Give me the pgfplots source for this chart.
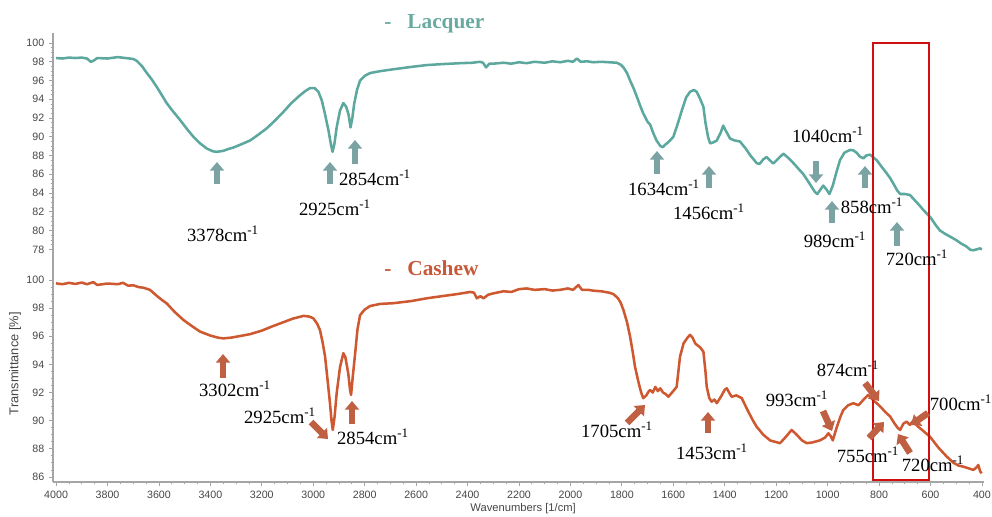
\documentclass[border=0pt]{standalone}
\usepackage{pgfplots}
\pgfplotsset{compat=1.18}
\usepackage{fontspec}
\setmainfont{Liberation Serif}
\newfontfamily\tickfont{Liberation Sans}
\usetikzlibrary{arrows.meta}
\definecolor{teal1}{RGB}{92,168,158}
\definecolor{cash}{RGB}{206,88,48}
\definecolor{tarrow}{RGB}{124,163,164}
\definecolor{carrow}{RGB}{192,96,66}
\definecolor{ttitle}{RGB}{104,170,160}
\definecolor{ctitle}{RGB}{200,88,56}
\definecolor{axgray}{RGB}{165,165,165}
\definecolor{lblgray}{RGB}{70,70,70}
\definecolor{boxred}{RGB}{208,16,16}
\pgfplotsset{
  myaxis/.style={scale only axis, width=698.25pt, xmin=392, xmax=4012, x dir=reverse,
    axis y line*=left, tick align=outside,
    axis line style={axgray, line width=0.8pt},
    major tick length=3pt, minor tick length=1.8pt,
    tick style={axgray, line width=0.6pt},
    minor tick num=3,
    tick label style={font=\tickfont\fontsize{8}{9}\selectfont, text=lblgray},
    /pgf/number format/assume math mode=true,
    /pgf/number format/1000 sep={},
  }
}
\newcommand{\cm}{cm\textsuperscript{-1}}
\begin{document}
\begin{tikzpicture}
\useasboundingbox (0,0) rectangle (744pt,-387.75pt);
% ---------------- Lacquer (top) ----------------
\begin{axis}[myaxis, at={(39.75pt,-197.55pt)}, anchor=south west,
  height=172.8pt, ymin=76.5, ymax=101.07, axis x line=none,
  ytick={78,80,...,100}]
\addplot[teal1, line width=1.9pt, line join=round] coordinates {
(4000,98.4)(3975,98.35)(3950,98.45)(3925,98.4)(3900,98.45)(3880,98.35)(3865,98.0)(3855,98.1)(3840,98.4)
(3800,98.35)(3760,98.5)(3730,98.4)(3700,98.3)(3686,98.1)(3665,97.5)(3647,96.8)(3630,96.2)(3608,95.3)
(3590,94.5)(3570,93.6)(3545,92.7)(3518,91.8)(3490,90.8)(3466,90.0)(3440,89.3)(3414,88.75)(3390,88.45)
(3375,88.4)(3350,88.5)(3330,88.7)(3311,88.85)(3280,89.2)(3246,89.6)(3215,90.2)(3181,90.9)(3150,91.7)
(3116,92.66)(3085,93.6)(3051,94.44)(3030,94.9)(3012,95.2)(2995,95.2)(2980,94.8)(2967,93.9)(2955,92.5)
(2941,90.7)(2932,89.3)(2925,88.4)(2918,89.2)(2909,91.0)(2896,92.8)(2883,93.6)(2872,93.2)(2863,92.4)
(2855,91.0)(2848,92.0)(2841,93.5)(2830,95.0)(2818,96.0)(2800,96.5)(2779,96.8)(2740,97.0)(2689,97.2)
(2620,97.45)(2559,97.65)(2500,97.75)(2429,97.85)(2380,97.9)(2352,98.0)(2340,97.9)(2328,97.4)(2315,97.8)
(2300,97.8)(2260,97.9)(2230,97.8)(2200,97.95)(2170,97.85)(2140,98.0)(2100,97.9)(2070,98.05)(2040,97.95)
(2010,98.1)(1990,98.0)(1975,98.35)(1960,98.0)(1935,98.05)(1911,97.95)(1880,98.0)(1850,97.95)(1820,97.9)
(1805,97.7)(1794,97.4)(1780,96.8)(1768,96.0)(1755,95.2)(1742,94.3)(1730,93.4)(1717,92.5)(1700,91.6)
(1690,91.3)(1678,90.4)(1665,89.6)(1650,89.0)(1640,88.9)(1634,89.1)(1625,89.3)(1613,89.6)(1600,90.0)
(1585,91.2)(1567,92.8)(1550,94.2)(1535,94.8)(1520,95.0)(1509,94.8)(1495,94.0)(1483,93.2)(1475,91.5)
(1465,90.0)(1457,89.3)(1445,89.4)(1431,89.6)(1415,90.5)(1406,91.2)(1395,90.6)(1379,89.8)(1360,89.6)
(1341,89.5)(1320,88.8)(1300,88.0)(1276,87.2)(1265,87.1)(1250,87.6)(1237,87.85)(1225,87.5)(1211,87.15)
(1195,87.6)(1172,88.2)(1155,87.8)(1140,87.4)(1120,86.8)(1094,86.0)(1070,85.0)(1049,84.1)(1040,83.9)
(1030,84.3)(1017,84.8)(1005,84.4)(993,83.9)(980,84.8)(965,86.3)(952,87.5)(935,88.3)(913,88.6)(900,88.55)
(887,88.3)(875,87.9)(861,87.7)(850,88.0)(835,88.1)(822,87.8)(809,87.5)(790,86.8)(770,86.1)(757,85.6)
(744,85.0)(730,84.3)(718,83.9)(700,83.9)(680,83.8)(660,83.2)(640,82.6)(628,82.2)(600,81.4)(580,80.6)
(563,80.0)(540,79.6)(520,79.3)(498,78.95)(480,78.6)(460,78.3)(445,77.95)(433,77.9)(420,78.0)(408,78.1)(400,78.0)
};
\end{axis}
% ---------------- Cashew (bottom) ----------------
\begin{axis}[myaxis, at={(39.75pt,-361.5pt)}, anchor=south west,
  height=163.95pt, ymin=85.64, ymax=101.18, axis x line*=bottom,
  xtick={400,600,...,4000}, ytick={86,88,...,100},
  xlabel={Wavenumbers [1/cm]}, ylabel={Transmittance [\%]},
  every axis x label/.style={at={(axis description cs:0.505,0)}, anchor=center, yshift=-20pt,
     font=\tickfont\fontsize{8.4}{9}\selectfont, text=lblgray},
  every axis y label/.style={at={(axis description cs:-0.0408,0.541)}, rotate=90, anchor=center,
     font=\tickfont\fontsize{9.6}{10}\selectfont, text=lblgray}]
\addplot[cash, line width=1.9pt, line join=round] coordinates {
(4000,99.76)(3975,99.7)(3950,99.8)(3925,99.72)(3900,99.82)(3880,99.7)(3855,99.85)(3840,99.65)(3800,99.75)
(3760,99.7)(3740,99.8)(3720,99.6)(3699,99.62)(3680,99.5)(3660,99.45)(3635,99.3)(3610,98.9)(3590,98.6)
(3570,98.34)(3540,97.75)(3505,97.16)(3470,96.7)(3440,96.33)(3400,96.05)(3370,95.9)(3350,95.85)(3320,95.9)
(3290,96.0)(3246,96.15)(3200,96.4)(3160,96.7)(3116,97.0)(3080,97.25)(3038,97.45)(3015,97.4)(3000,97.28)
(2985,96.9)(2974,96.45)(2964,95.6)(2954,94.55)(2945,93.0)(2935,91.24)(2929,90.0)(2924,89.34)(2917,90.3)
(2909,91.95)(2896,93.8)(2883,94.8)(2875,94.5)(2864,93.37)(2857,92.2)(2853,91.83)(2846,93.2)(2837,94.8)
(2828,96.5)(2818,97.5)(2800,97.9)(2779,98.15)(2740,98.3)(2689,98.35)(2620,98.5)(2559,98.7)(2500,98.85)
(2440,99.0)(2390,99.15)(2375,99.1)(2364,98.7)(2350,98.85)(2338,98.7)(2320,98.95)(2300,99.05)(2260,99.2)
(2230,99.15)(2200,99.35)(2170,99.4)(2140,99.3)(2100,99.35)(2070,99.25)(2040,99.3)(2010,99.4)(1990,99.3)
(1969,99.64)(1955,99.3)(1930,99.3)(1911,99.24)(1880,99.2)(1850,99.1)(1833,99.0)(1815,98.7)(1805,98.4)
(1794,97.87)(1780,97.0)(1768,95.97)(1758,94.9)(1749,93.84)(1735,92.7)(1725,92.0)(1717,91.6)(1705,91.8)
(1695,92.1)(1690,92.18)(1680,92.0)(1670,92.4)(1660,92.1)(1651,92.3)(1640,92.0)(1630,91.9)(1619,91.7)
(1605,92.0)(1587,92.4)(1574,94.55)(1560,95.5)(1545,95.9)(1535,96.1)(1525,95.9)(1515,95.5)(1509,95.4)
(1495,95.2)(1483,94.9)(1475,93.5)(1470,92.4)(1460,91.6)(1451,91.35)(1440,91.5)(1431,91.24)(1415,91.7)
(1400,92.2)(1392,92.3)(1380,91.9)(1373,91.7)(1355,91.8)(1334,91.6)(1310,90.7)(1290,90.0)(1276,89.57)
(1250,89.0)(1224,88.6)(1205,88.5)(1185,88.4)(1165,88.8)(1140,89.34)(1120,89.0)(1100,88.6)(1081,88.4)
(1060,88.45)(1030,88.6)(1010,88.8)(997,89.1)(988,88.9)(980,88.6)(965,89.5)(950,90.3)(939,90.76)(920,91.1)
(900,91.24)(880,91.1)(860,91.5)(842,91.83)(830,91.6)(820,91.4)(809,91.24)(790,90.9)(775,90.6)(757,90.3)
(740,89.8)(728,89.5)(718,89.34)(705,89.8)(693,89.93)(680,89.7)(667,90.0)(650,89.6)(630,89.3)(602,88.86)
(570,88.1)(537,87.45)(510,87.0)(490,86.8)(472,86.73)(450,86.6)(433,86.5)(420,86.7)(414,86.85)(407,86.4)(401,86.26)
};
\end{axis}
% ---------------- annotations (pixel coordinates) ----------------
\begin{scope}[x=0.75pt, y=-0.75pt]
\tikzset{ta/.style={draw=tarrow, line width=5pt, -{Triangle[width=10.5pt,length=6.5pt]}},
         ca/.style={draw=carrow, line width=5pt, -{Triangle[width=10.5pt,length=6.5pt]}},
         lab/.style={font=\fontsize{14}{16}\selectfont, inner sep=0pt, text=black}}
% titles
\node[anchor=west, inner sep=0pt, text=ttitle, font=\fontsize{16}{18}\selectfont\bfseries] at (384,24) {-\hspace{12pt}Lacquer};
\node[anchor=west, inner sep=0pt, text=ctitle, font=\fontsize{16}{18}\selectfont\bfseries] at (384,268) {-\hspace{12pt}Cashew};
% red box
\draw[boxred, line width=1.9pt] (873,43) rectangle (929,480);
% top arrows
\draw[ta] (217,184) -- (217,162);
\draw[ta] (330,184) -- (330,162);
\draw[ta] (355,164) -- (355,140);
\draw[ta] (657,174) -- (657,151);
\draw[ta] (709,188) -- (709,166);
\draw[ta] (816,161) -- (816,183);
\draw[ta] (832,223) -- (832,201);
\draw[ta] (865,188) -- (865,166);
\draw[ta] (897,246) -- (897,222);
% top labels
\node[lab] at (223,234) {3378\cm};
\node[lab] at (335,208) {2925\cm};
\node[lab] at (375,178) {2854\cm};
\node[lab] at (664,188) {1634\cm};
\node[lab] at (709,212) {1456\cm};
\node[lab] at (828,135) {1040\cm};
\node[lab] at (835,240) {989\cm};
\node[lab] at (872,206) {858\cm};
\node[lab] at (917,258) {720\cm};
% bottom arrows
\draw[ca] (223,378) -- (223,354);
\draw[ca] (311,422) -- (328,439);
\draw[ca] (352,424) -- (352,401);
\draw[ca] (627,423) -- (645,405);
\draw[ca] (708,433) -- (708,412);
\draw[ca] (823,411) -- (832,431);
\draw[ca] (865,383) -- (879,401);
\draw[ca] (928,413) -- (911,425);
\draw[ca] (869,438) -- (884,422);
\draw[ca] (910,453) -- (898,434);
% bottom labels
\node[lab] at (235,389) {3302\cm};
\node[lab] at (280,416) {2925\cm};
\node[lab] at (373,437) {2854\cm};
\node[lab] at (617,430) {1705\cm};
\node[lab] at (712,452) {1453\cm};
\node[lab] at (797,399) {993\cm};
\node[lab] at (848,369) {874\cm};
\node[lab] at (961,403) {700\cm};
\node[lab] at (868,455) {755\cm};
\node[lab] at (933,464) {720\cm};
\end{scope}
\end{tikzpicture}
\end{document}
